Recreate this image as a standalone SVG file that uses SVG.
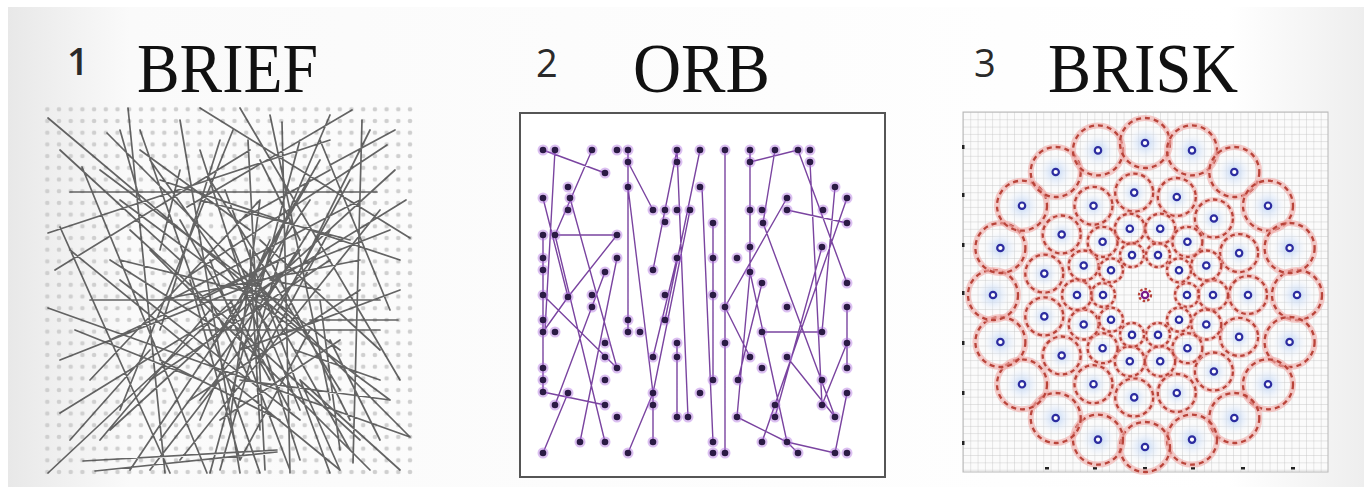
<svg xmlns="http://www.w3.org/2000/svg" xmlns:xlink="http://www.w3.org/1999/xlink" width="1364" height="487" viewBox="0 0 1364 487">
<style>
.num{font-family:"Open Sans","Liberation Sans",sans-serif;font-size:38px;fill:#2a2a2a}
.ttl{font-family:"Liberation Serif","Times New Roman",serif;font-size:70px;fill:#111}
.bl{stroke:#3e3e3e;stroke-width:1.7;stroke-opacity:.8;fill:none;stroke-linecap:round}
.ol{stroke:#7a44a0;stroke-width:1.4;fill:none}
.pink{fill:none;stroke:#f0aaa6;stroke-opacity:.6}
.dash{fill:none;stroke:#b9443a;stroke-width:2.3}
.pt{fill:#fff;stroke:#2c2ca0;stroke-width:2.2}
</style>
<defs>
<linearGradient id="bg" x1="0" y1="0" x2="1" y2="0">
<stop offset="0" stop-color="#e8e8e8"/><stop offset="0.09" stop-color="#fafafa"/><stop offset="0.9" stop-color="#ffffff"/><stop offset="1" stop-color="#eeeeee"/>
</linearGradient>
<pattern id="dots" patternUnits="userSpaceOnUse" x="41.45" y="103.45" width="11.7" height="11.7">
<circle cx="5.85" cy="5.85" r="2.3" fill="#cfcfcf"/>
</pattern>
<pattern id="grid" patternUnits="userSpaceOnUse" x="963" y="112" width="7.3" height="7.3">
<path d="M0 0V7.3M0 0H7.3" stroke="#c2c2c2" stroke-width="0.8" fill="none"/>
</pattern>
<radialGradient id="glow">
<stop offset="0" stop-color="#bcd2f4" stop-opacity="1"/><stop offset="1" stop-color="#e8f0fc" stop-opacity="0"/>
</radialGradient>
<g id="od"><circle r="5.5" fill="#b070e0" fill-opacity="0.45"/><circle r="3.3" fill="#2b1b45"/></g>
<g id="k4"><circle r="17" fill="url(#glow)"/><circle r="25" class="pink" stroke-width="6"/><circle r="25" class="dash" stroke-dasharray="5 4"/><circle r="3.2" class="pt"/></g>
<g id="k3"><circle r="13" fill="url(#glow)"/><circle r="19" class="pink" stroke-width="5"/><circle r="19" class="dash" stroke-dasharray="4.5 3.5"/><circle r="3.2" class="pt"/></g>
<g id="k2"><circle r="10" fill="url(#glow)"/><circle r="15" class="pink" stroke-width="4.5"/><circle r="15" class="dash" stroke-dasharray="4 3"/><circle r="3.2" class="pt"/></g>
<g id="k1"><circle r="8" fill="url(#glow)"/><circle r="12" class="pink" stroke-width="4"/><circle r="12" class="dash" stroke-dasharray="3.5 2.8"/><circle r="3.2" class="pt"/></g>
</defs>
<rect x="0" y="0" width="1364" height="487" fill="#fff"/>
<rect x="8" y="7" width="1356" height="480" fill="url(#bg)"/>

<g id="titles">
<text class="num" x="67" y="75" font-weight="600">1</text>
<text class="ttl" x="137" y="92" textLength="181" lengthAdjust="spacingAndGlyphs">BRIEF</text>
<text class="num" x="536" y="77">2</text>
<text class="ttl" x="633" y="92" textLength="137" lengthAdjust="spacingAndGlyphs">ORB</text>
<text class="num" x="974" y="77">3</text>
<text class="ttl" x="1048" y="92" textLength="190" lengthAdjust="spacingAndGlyphs">BRISK</text>
</g>

<g id="brief">
<rect x="42" y="104" width="372" height="374" fill="url(#dots)"/>
<path class="bl" d="M70 192L377 192M200 108L410 238M352 110L187 207M128 108L165 473M48 118L300 330M48 308L410 437M60 413L406 200M48 473L233 300M83 461L277 450M95 471L277 452M362 120L353 463M282 122L290 473M387 145L187 277M398 320L310 320M60 227L170 473M82 167L207 473M107 133L410 437M140 130L260 473M233 130L120 410M300 140L210 473M160 180L400 260M48 233L330 140M70 250L340 470M120 200L390 400M180 120L240 473M395 170L110 430M380 210L180 460M270 115L330 400M330 115L200 420M60 360L390 230M200 150L300 460M248 140L265 470M90 300L380 300M100 170L340 350M150 250L370 470M55 270L250 150M225 190L330 473M310 200L130 470M130 230L360 440M240 108L400 380M360 260L160 300M110 340L300 250M210 260L290 470M290 220L220 470M170 300L360 200M150 380L330 260M260 200L230 420M320 250L200 400M180 220L270 380M350 180L250 360M200 330L380 330M120 280L300 420M250 270L350 450M300 280L180 360M230 240L300 410M280 300L120 260M340 390L210 180M380 350L260 240M160 440L300 250M90 380L260 200M400 290L240 350M240 300L310 180M210 350L320 160M270 330L150 160M310 330L240 460M190 400L360 290M220 140L160 330M320 140L390 310M60 150L180 260M100 440L210 310M350 420L270 260M300 380L400 470M190 280L240 460M260 360L330 230M140 150L250 230M370 130L300 270M160 360L280 420M220 420L340 340M250 250L260 430M280 260L200 300M320 300L340 450M75 330L200 380M330 170L240 220M200 200L350 240M110 260L220 330M295 350L380 380M240 380L390 400M150 470L220 380M70 440L150 350M340 470L300 380M180 170L160 250M260 160L300 240M380 440L330 340M230 330L270 240M270 280L320 290M210 300L250 380M290 410L230 300M310 230L260 310M120 130L140 200M395 130L330 165"/>
</g>

<g id="orb">
<rect x="520" y="113" width="365" height="364" fill="#fff" stroke="#555" stroke-width="2"/>
<g id="orb-connectors" class="ol">
<path d="M543 150L605 173M592 150L555 235M555 150L545 330M543 198L568 297M555 235L617 235M570 198L617 368M555 235L605 442M617 235L568 297M568 297L543 332M617 258L580 442M628 150L628 332M628 162L653 210M628 187L653 393M543 295L617 368M543 392L605 405M568 393L543 453M628 453L653 393M653 442L653 393M653 270L677 150M677 150L688 417M677 343L677 417M700 150L665 320M690 210L653 393M725 150L725 453M750 162L798 150M750 150L750 272M775 150L763 223M798 150L847 283M810 162L822 405M835 187L822 332M787 210L847 223M847 198L762 442M763 223L835 417M787 198L725 307M762 332L822 332M750 272L787 442M750 272L737 417M737 417L787 442M787 442L835 453M787 442L798 453M713 223L713 380M725 307L750 357M702 187L713 442M787 357L835 417M847 307L847 368M847 343L822 405M847 393L835 453M822 247L775 417M738 380L762 283M543 235L543 392M605 272L555 405M665 210L653 270M677 258L653 357"/>
</g>
<g id="orb-points">
<use href="#od" x="543" y="150"/><use href="#od" x="555" y="150"/><use href="#od" x="592" y="150"/><use href="#od" x="617" y="150"/><use href="#od" x="628" y="150"/><use href="#od" x="677" y="150"/><use href="#od" x="700" y="150"/>
<use href="#od" x="628" y="162"/><use href="#od" x="677" y="162"/><use href="#od" x="605" y="173"/>
<use href="#od" x="568" y="187"/><use href="#od" x="628" y="187"/><use href="#od" x="700" y="187"/>
<use href="#od" x="543" y="198"/><use href="#od" x="570" y="198"/>
<use href="#od" x="568" y="210"/><use href="#od" x="653" y="210"/><use href="#od" x="665" y="210"/><use href="#od" x="677" y="210"/><use href="#od" x="690" y="210"/>
<use href="#od" x="665" y="222"/>
<use href="#od" x="543" y="235"/><use href="#od" x="555" y="235"/><use href="#od" x="617" y="235"/>
<use href="#od" x="543" y="258"/><use href="#od" x="617" y="258"/><use href="#od" x="677" y="258"/>
<use href="#od" x="543" y="270"/><use href="#od" x="605" y="272"/><use href="#od" x="653" y="270"/>
<use href="#od" x="543" y="295"/><use href="#od" x="568" y="297"/><use href="#od" x="592" y="295"/><use href="#od" x="665" y="295"/>
<use href="#od" x="592" y="307"/>
<use href="#od" x="543" y="320"/><use href="#od" x="628" y="320"/><use href="#od" x="665" y="320"/>
<use href="#od" x="543" y="332"/><use href="#od" x="555" y="332"/><use href="#od" x="628" y="332"/><use href="#od" x="640" y="332"/>
<use href="#od" x="605" y="343"/><use href="#od" x="677" y="343"/>
<use href="#od" x="605" y="357"/><use href="#od" x="653" y="357"/><use href="#od" x="677" y="357"/>
<use href="#od" x="543" y="368"/><use href="#od" x="617" y="368"/>
<use href="#od" x="543" y="380"/><use href="#od" x="605" y="380"/>
<use href="#od" x="543" y="392"/><use href="#od" x="568" y="393"/><use href="#od" x="653" y="393"/><use href="#od" x="700" y="393"/>
<use href="#od" x="555" y="405"/><use href="#od" x="605" y="405"/><use href="#od" x="653" y="405"/>
<use href="#od" x="617" y="417"/><use href="#od" x="677" y="417"/><use href="#od" x="688" y="417"/>
<use href="#od" x="580" y="442"/><use href="#od" x="605" y="442"/><use href="#od" x="653" y="442"/>
<use href="#od" x="543" y="453"/><use href="#od" x="628" y="453"/>
<use href="#od" x="725" y="150"/><use href="#od" x="750" y="150"/><use href="#od" x="775" y="150"/><use href="#od" x="798" y="150"/><use href="#od" x="810" y="150"/>
<use href="#od" x="750" y="162"/><use href="#od" x="810" y="162"/><use href="#od" x="835" y="187"/>
<use href="#od" x="787" y="198"/><use href="#od" x="847" y="198"/>
<use href="#od" x="750" y="210"/><use href="#od" x="762" y="210"/><use href="#od" x="787" y="210"/><use href="#od" x="823" y="210"/>
<use href="#od" x="713" y="223"/><use href="#od" x="763" y="223"/><use href="#od" x="847" y="223"/>
<use href="#od" x="750" y="247"/><use href="#od" x="822" y="247"/>
<use href="#od" x="737" y="258"/><use href="#od" x="713" y="258"/><use href="#od" x="750" y="272"/>
<use href="#od" x="762" y="283"/><use href="#od" x="847" y="283"/><use href="#od" x="713" y="295"/>
<use href="#od" x="725" y="307"/><use href="#od" x="787" y="307"/><use href="#od" x="847" y="307"/>
<use href="#od" x="762" y="332"/><use href="#od" x="822" y="332"/>
<use href="#od" x="725" y="343"/><use href="#od" x="847" y="343"/>
<use href="#od" x="750" y="357"/><use href="#od" x="787" y="357"/>
<use href="#od" x="762" y="368"/><use href="#od" x="847" y="368"/>
<use href="#od" x="713" y="380"/><use href="#od" x="738" y="380"/><use href="#od" x="822" y="380"/>
<use href="#od" x="847" y="393"/>
<use href="#od" x="775" y="405"/><use href="#od" x="822" y="405"/>
<use href="#od" x="737" y="417"/><use href="#od" x="775" y="417"/><use href="#od" x="835" y="417"/>
<use href="#od" x="762" y="442"/><use href="#od" x="787" y="442"/><use href="#od" x="713" y="442"/>
<use href="#od" x="713" y="453"/><use href="#od" x="725" y="453"/><use href="#od" x="798" y="453"/><use href="#od" x="835" y="453"/><use href="#od" x="847" y="453"/>
</g>
</g>

<g id="brisk">
<rect x="963" y="112" width="365" height="360" fill="#fbfbfb"/>
<rect x="963" y="112" width="365" height="360" fill="url(#grid)" stroke="#b8b8b8" stroke-width="1"/>
<g id="brisk-ticks" fill="#222">
<rect x="962" y="145" width="2.5" height="4"/><rect x="962" y="193" width="2.5" height="4"/><rect x="962" y="243" width="2.5" height="4"/><rect x="962" y="291" width="2.5" height="4"/><rect x="962" y="341" width="2.5" height="4"/><rect x="962" y="391" width="2.5" height="4"/><rect x="962" y="441" width="2.5" height="4"/>
<rect x="1045" y="467" width="4" height="2.5"/><rect x="1093" y="467" width="4" height="2.5"/><rect x="1143" y="467" width="4" height="2.5"/><rect x="1191" y="467" width="4" height="2.5"/><rect x="1241" y="467" width="4" height="2.5"/><rect x="1291" y="467" width="4" height="2.5"/>
</g>
<g id="ring4">
<use href="#k4" x="1297" y="295"/><use href="#k4" x="1289.6" y="342"/><use href="#k4" x="1268" y="384.3"/><use href="#k4" x="1234.3" y="418"/><use href="#k4" x="1192" y="439.6"/><use href="#k4" x="1145" y="447"/><use href="#k4" x="1098" y="439.6"/><use href="#k4" x="1055.7" y="418"/><use href="#k4" x="1022" y="384.3"/><use href="#k4" x="1000.4" y="342"/><use href="#k4" x="993" y="295"/><use href="#k4" x="1000.4" y="248"/><use href="#k4" x="1022" y="205.7"/><use href="#k4" x="1055.7" y="172"/><use href="#k4" x="1098" y="150.4"/><use href="#k4" x="1145" y="143"/><use href="#k4" x="1192" y="150.4"/><use href="#k4" x="1234.3" y="172"/><use href="#k4" x="1268" y="205.7"/><use href="#k4" x="1289.6" y="248"/>
</g>
<g id="ring3">
<use href="#k3" x="1248" y="295"/><use href="#k3" x="1239.1" y="336.9"/><use href="#k3" x="1213.9" y="371.5"/><use href="#k3" x="1176.8" y="393"/><use href="#k3" x="1134.2" y="397.4"/><use href="#k3" x="1093.5" y="384.2"/><use href="#k3" x="1061.7" y="355.5"/><use href="#k3" x="1044.3" y="316.4"/><use href="#k3" x="1044.3" y="273.6"/><use href="#k3" x="1061.7" y="234.5"/><use href="#k3" x="1093.5" y="205.8"/><use href="#k3" x="1134.2" y="192.6"/><use href="#k3" x="1176.8" y="197"/><use href="#k3" x="1213.9" y="218.5"/><use href="#k3" x="1239.1" y="253.1"/>
</g>
<g id="ring2">
<use href="#k2" x="1213" y="295"/><use href="#k2" x="1206.3" y="324.5"/><use href="#k2" x="1187.4" y="348.2"/><use href="#k2" x="1160.2" y="361.3"/><use href="#k2" x="1129.8" y="361.3"/><use href="#k2" x="1102.6" y="348.2"/><use href="#k2" x="1083.7" y="324.5"/><use href="#k2" x="1077" y="295"/><use href="#k2" x="1083.7" y="265.5"/><use href="#k2" x="1102.6" y="241.8"/><use href="#k2" x="1129.8" y="228.7"/><use href="#k2" x="1160.2" y="228.7"/><use href="#k2" x="1187.4" y="241.8"/><use href="#k2" x="1206.3" y="265.5"/>
</g>
<g id="ring1">
<use href="#k1" x="1187" y="295"/><use href="#k1" x="1179" y="319.7"/><use href="#k1" x="1158" y="334.9"/><use href="#k1" x="1132" y="334.9"/><use href="#k1" x="1111" y="319.7"/><use href="#k1" x="1103" y="295"/><use href="#k1" x="1111" y="270.3"/><use href="#k1" x="1132" y="255.1"/><use href="#k1" x="1158" y="255.1"/><use href="#k1" x="1179" y="270.3"/>
</g>
<g id="center">
<circle cx="1145" cy="295" r="6" class="dash" stroke-dasharray="2.5 2"/>
<circle cx="1145" cy="295" r="3.2" fill="#fff" stroke="#7a1a8a" stroke-width="2.2"/>
</g>
</g>
</svg>
